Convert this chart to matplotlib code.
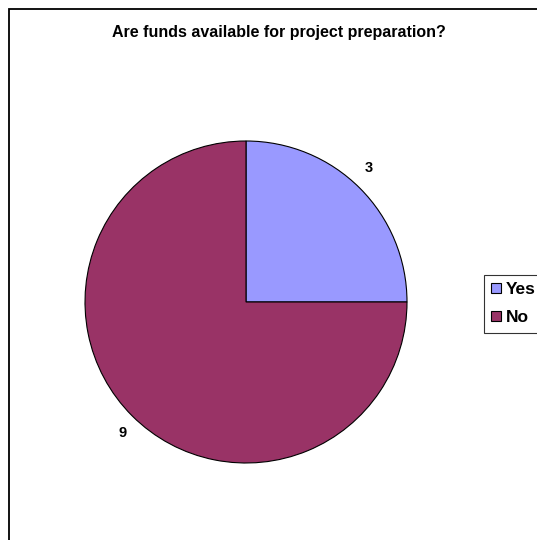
import numpy as np
import matplotlib
matplotlib.use('Agg')
import matplotlib.pyplot as plt
from matplotlib.patches import Rectangle, Patch

labels = ["Yes", "No"]
counts = [3, 9]
colors = ["#9999FF", "#993366"]

plt.rcParams['font.family'] = ['Liberation Sans', 'DejaVu Sans']

W, H = 537, 540
fig = plt.figure(figsize=(W / 100, H / 100), dpi=100)

# outer chart border (right and bottom edges fall outside the image)
fig.patches.append(Rectangle((9 / W, -0.1), 1.2, 1 - 9 / H + 0.1, transform=fig.transFigure,
                             fill=False, edgecolor='black', linewidth=1.3, clip_on=False))

fig.text(279 / W, 1 - 33 / H, "Are funds available for project preparation?",
         ha='center', va='center', fontsize=11.5, fontweight='bold')

cx, cy, r = 246, 540 - 302, 161
ax = fig.add_axes([(cx - r) / W, (cy - r) / H, 2 * r / W, 2 * r / H])
wedges, _ = ax.pie(counts, colors=colors, startangle=90, counterclock=False,
                   wedgeprops=dict(edgecolor='black', linewidth=0.8))
ax.set_xlim(-1, 1)
ax.set_ylim(-1, 1)
ax.set_aspect('auto')

# value labels outside the slices, nudged the way the original sits
nudges = [(-4.5, 3.5), (3.5, -2)]
for w, c, (dx, dy) in zip(wedges, counts, nudges):
    ang = np.deg2rad((w.theta1 + w.theta2) / 2)
    ax.annotate(str(c), (1.13 * np.cos(ang), 1.13 * np.sin(ang)), xytext=(dx, dy),
                textcoords='offset points', ha='center', va='center',
                fontsize=10.5, fontweight='bold')

handles = [Patch(facecolor=col, edgecolor='black', linewidth=0.8) for col in colors]
leg = fig.legend(handles, labels, loc='upper left', bbox_to_anchor=(484 / W, 1 - 275 / H),
                 borderaxespad=0, frameon=True, fancybox=False, edgecolor='black',
                 handlelength=0.55, handleheight=0.55, handletextpad=0.3, borderpad=0.42,
                 labelspacing=0.75, prop=dict(weight='bold', size=12.5))
leg.get_frame().set_linewidth(0.8)

fig.savefig("out.png", dpi=100)
